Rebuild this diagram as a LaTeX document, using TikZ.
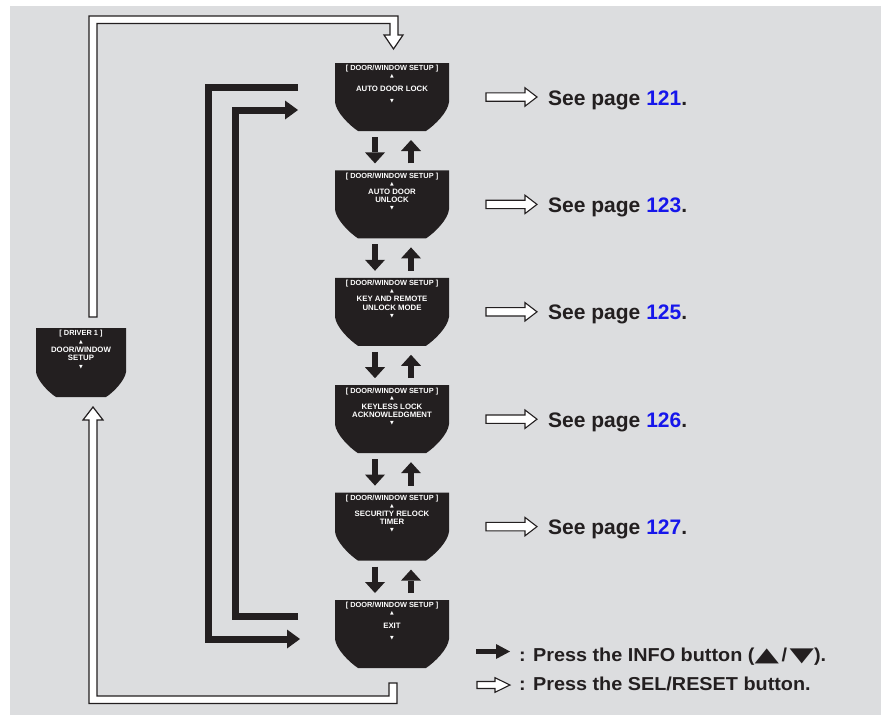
\documentclass[tikz,border=0pt]{standalone}
\usepackage{fontspec}
\usepackage{graphicx}
\setmainfont{Liberation Sans}
\newfontfamily\symf{DejaVu Sans}
\usetikzlibrary{arrows.meta,calc}
\definecolor{panel}{RGB}{220,221,223}
\definecolor{ink}{RGB}{35,31,32}
\definecolor{pblue}{RGB}{22,22,235}
\newcommand\uptri{{\symf\fontsize{4.8}{5}\selectfont ▲}}
\newcommand\dntri{{\symf\fontsize{4.8}{5}\selectfont ▼}}
\newcommand\legtri[1]{{\symf\scalebox{1.6}[1.05]{#1}}}
\begin{document}
\begin{tikzpicture}[x=1pt,y=-1pt,
  colbox/.style={rectangle,minimum width=114pt,minimum height=68pt,inner sep=0pt,outer sep=0pt,
    path picture={\fill[ink] (path picture bounding box.north west) -- (path picture bounding box.north east)
      -- ++(0pt,-39pt) .. controls +(-1pt,-10pt) and +(9pt,6pt) .. ++(-23pt,-29pt)
      -- ++(-68pt,0pt) .. controls +(-9pt,6pt) and +(1pt,-10pt) .. ++(-23pt,29pt) -- cycle;}},
  drvbox/.style={rectangle,minimum width=90pt,minimum height=69pt,inner sep=0pt,outer sep=0pt,
    path picture={\fill[ink] (path picture bounding box.north west) -- (path picture bounding box.north east)
      -- ++(0pt,-44pt) .. controls +(-1pt,-8pt) and +(8pt,5pt) .. ++(-20pt,-25pt)
      -- ++(-50pt,0pt) .. controls +(-8pt,5pt) and +(1pt,-8pt) .. ++(-20pt,25pt) -- cycle;}},
  dt/.style={text=white,font=\fontsize{7.4}{8}\selectfont\bfseries,inner sep=0pt,align=center},
  db/.style={text=white,font=\fontsize{7.8}{8.2}\selectfont\bfseries,inner sep=0pt,align=center},
  ref/.style={text=ink,font=\fontsize{21}{25}\selectfont\bfseries,inner sep=0pt},
  leg/.style={text=ink,font=\fontsize{18.7}{22}\selectfont\bfseries,inner sep=0pt},
  vblk/.style={draw=ink,line width=6.5pt,-{Triangle[length=11pt,width=20pt,line width=0pt]}},
  lblk/.style={draw=ink,line width=7pt,line join=miter},
  lhead/.style={-{Triangle[length=13pt,width=19pt,line width=0pt]}},
  hol/.style={fill=white,draw=ink,line width=1.1pt,line join=miter},
  pipe/.style={fill=white,draw=ink,line width=1.2pt,line join=miter}]
\useasboundingbox (0,0) rectangle (881,715);
\fill[panel] (10,6) rectangle (881,715);

% displays
\foreach \i/\ty/\txt in {1/97/{AUTO DOOR LOCK},2/204.4/{AUTO DOOR\\UNLOCK},3/311.8/{KEY AND REMOTE\\UNLOCK MODE},4/419.2/{KEYLESS LOCK\\ACKNOWLEDGMENT},5/526.6/{SECURITY RELOCK\\TIMER},6/634/{EXIT}}{
  \node[colbox] (d\i) at (392,\ty) {};
  \node[dt] (t\i) at ([yshift=-6pt]d\i.north) {[ DOOR/WINDOW SETUP ]};
  \node[dt] (u\i) at ([yshift=-13.5pt]d\i.north) {\uptri};
  \node[db] (b\i) at ([yshift=-25.5pt]d\i.north) {\txt};
  \node[dt] (w\i) at ([yshift=-38pt]d\i.north) {\dntri};
}
\node[drvbox] (drv) at (81,362.5) {};
\node[dt] (tD) at ([yshift=-5.5pt]drv.north) {[ DRIVER 1 ]};
\node[dt] (uD) at ([yshift=-14pt]drv.north) {\uptri};
\node[db] (bD) at ([yshift=-25.5pt]drv.north) {DOOR/WINDOW\\SETUP};
\node[dt] (wD) at ([yshift=-39pt]drv.north) {\dntri};

% hollow pipes
\draw[pipe] ([shift={(8pt,11pt)}]drv.north) -- ++(0pt,301pt) -- ++(309pt,0pt) -- ++(0pt,-19pt)
  -- ++(5pt,0pt) -- ++(-9.5pt,-14pt) -- ++(-9.5pt,14pt) -- ++(6pt,0pt) -- ++(0pt,11.5pt)
  -- ++(-293pt,0pt) -- ++(0pt,-293.5pt) -- cycle;
\draw[pipe] ([shift={(-3pt,-15pt)}]d6.south) -- ++(8pt,0pt) -- ++(0pt,-20.5pt) -- ++(-308pt,0pt)
  -- ++(0pt,283.5pt) -- ++(-6pt,0pt) -- ++(10pt,13pt) -- ++(10pt,-13pt) -- ++(-6pt,0pt)
  -- ++(0pt,-276pt) -- ++(292pt,0pt) -- cycle;

% black L connectors
\draw[lblk,lhead] ([shift={(-37pt,10pt)}]d1.west) -| ([shift={(-126.5pt,-5pt)}]d6.west) -- ([shift={(-35pt,-5pt)}]d6.west);
\draw[lblk,lhead] ([shift={(-37pt,17.5pt)}]d6.west) -| ([shift={(-100pt,-13pt)}]d1.west) -- ([shift={(-37pt,-13pt)}]d1.west);

% vertical arrows
\foreach \i in {1,...,5}{
  \pgfmathtruncatemacro\j{\i+1}
  \draw[vblk] ([shift={(-17pt,-6pt)}]d\i.south) -- ([shift={(-17pt,7pt)}]d\j.north);
  \draw[vblk] ([shift={(19pt,7pt)}]d\j.north) -- ([shift={(19pt,-9pt)}]d\i.south);
}

% page references
\foreach \i/\n in {1/121,2/123,3/125,4/126,5/127}{
  \node[ref,anchor=base west] (r\i) at ([shift={(99pt,-8pt)}]d\i.east) {See page \textcolor{pblue}{\n}.};
  \draw[hol] ([shift={(37pt,4.2pt)}]d\i.east) -- ++(39pt,0pt) -- ++(0pt,5pt) -- ++(12pt,-9.2pt)
    -- ++(-12pt,-9.2pt) -- ++(0pt,5pt) -- ++(-39pt,0pt) -- cycle;
}

% legend
\draw[draw=ink,line width=5.5pt,-{Triangle[length=14pt,width=15pt,line width=0pt]}] (476,651.5) -- (510,651.5);
\node[leg,anchor=base west] (l1) at (519,661) {\scalebox{1.06}[1]{: Press the INFO button (\legtri{▲}\kern2.5pt/\kern2.5pt\legtri{▼}).}};
\draw[hol] (477,681.5) -- ++(18pt,0pt) -- ++(0pt,3.8pt) -- ++(15pt,-7.3pt) -- ++(-15pt,-7.3pt)
  -- ++(0pt,3.8pt) -- ++(-18pt,0pt) -- cycle;
\node[leg,anchor=base west] (l2) at (519,690) {\scalebox{1.06}[1]{: Press the SEL/RESET button.}};
\end{tikzpicture}
\end{document}
